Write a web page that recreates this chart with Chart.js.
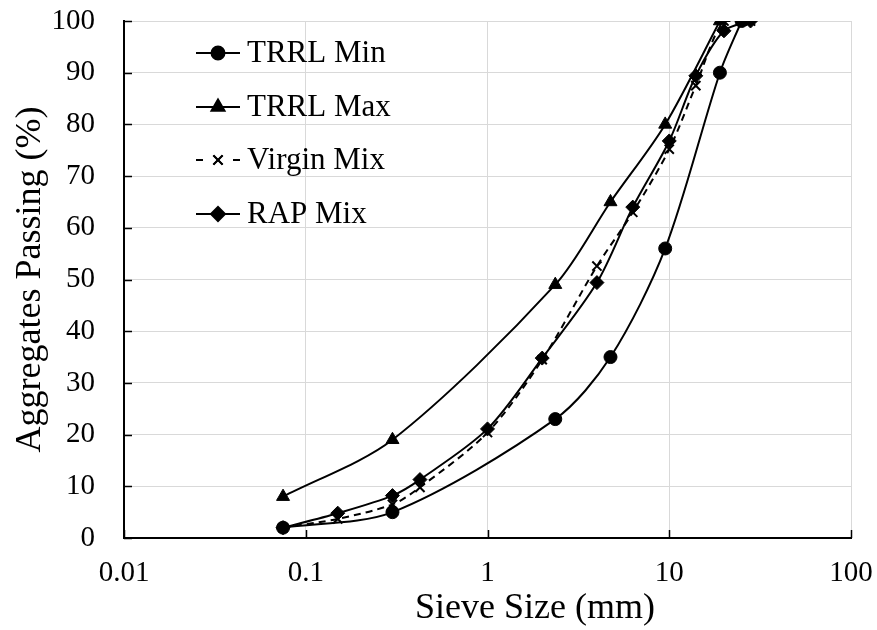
<!DOCTYPE html>
<html>
<head>
<meta charset="utf-8">
<script src="https://cdn.jsdelivr.net/npm/chart.js@4/dist/chart.umd.min.js"></script>
<style>
  html, body { margin: 0; padding: 0; background: #fff; }
</style>
</head>
<body>
<canvas id="gradation" width="877" height="630"></canvas>
<script>
// sieve sizes (mm) and percent passing
const limitSieves = [0.075, 0.3, 2.36, 4.75, 9.5, 19, 25];
const trrlMin = [2, 5, 23, 35, 56, 90, 100];
const maxSieves = [0.075, 0.3, 2.36, 4.75, 9.5, 19];
const trrlMax = [8, 19, 49, 65, 80, 100];
const mixSieves = [0.075, 0.15, 0.3, 0.425, 1, 2, 4, 6.3, 10, 14, 20, 28];
const virginMix = [2, 3.7, 6.5, 9.8, 20.4, 34.5, 52.6, 63, 75.2, 87.5, 100, 100];
const rapMix = [2, 4.8, 8.2, 11.3, 21.1, 34.8, 49.4, 64, 76.8, 89.4, 98.1, 100];
const xTicks = [0.01, 0.1, 1, 10, 100];

const serif = '"Liberation Serif", "Times New Roman", serif';

function pairs(xs, ys) {
  return xs.map((x, i) => ({ x: x, y: ys[i] }));
}

// legend drawn inside the plot, line sample + marker
const insideLegend = {
  id: 'insideLegend',
  afterDraw(chart) {
    const ctx = chart.ctx;
    const rows = [53, 107, 160, 214];
    chart.data.datasets.forEach((ds, i) => {
      const y = rows[i];
      ctx.save();
      ctx.strokeStyle = '#000';
      ctx.lineWidth = 2;
      ctx.beginPath();
      if (ds.borderDash && ds.borderDash.length) {
        ctx.moveTo(196, y); ctx.lineTo(203, y);
        ctx.moveTo(233, y); ctx.lineTo(240, y);
      } else {
        ctx.moveTo(196, y); ctx.lineTo(240, y);
      }
      ctx.stroke();
      Chart.helpers.drawPoint(ctx, {
        pointStyle: ds.pointStyle,
        radius: ds.pointRadius,
        rotation: 0,
        borderWidth: ds.pointBorderWidth
      }, 218, y);
      ctx.fillStyle = '#000';
      ctx.strokeStyle = '#000';
      if (ds.pointStyle === 'crossRot') ctx.stroke(); else ctx.fill();
      ctx.font = '31px ' + serif;
      ctx.textBaseline = 'middle';
      ctx.textAlign = 'left';
      ctx.fillText(ds.label, 247, y + 1);
      ctx.restore();
    });
  }
};

// inward tick marks on both axes, plus the x axis title
const axisExtras = {
  id: 'axisExtras',
  afterDraw(chart) {
    const ctx = chart.ctx;
    const xs = chart.scales.x, ys = chart.scales.y;
    const area = chart.chartArea;
    ctx.save();
    ctx.strokeStyle = '#000';
    ctx.lineWidth = 1.5;
    ctx.beginPath();
    for (let v = 0; v <= 100; v += 10) {
      const py = Math.round(ys.getPixelForValue(v)) + 0.5;
      ctx.moveTo(area.left, py); ctx.lineTo(area.left + 8, py);
    }
    xTicks.forEach(v => {
      const px = Math.round(xs.getPixelForValue(v)) + 0.5;
      ctx.moveTo(px, area.bottom); ctx.lineTo(px, area.bottom - 8);
    });
    ctx.stroke();
    ctx.fillStyle = '#000';
    ctx.font = '36px ' + serif;
    ctx.textAlign = 'center';
    ctx.textBaseline = 'middle';
    ctx.fillText('Sieve Size (mm)', 535, 609);
    ctx.restore();
  }
};

const line = {
  borderColor: '#000',
  backgroundColor: '#000',
  pointBackgroundColor: '#000',
  pointBorderColor: '#000',
  borderWidth: 2,
  tension: 0.3,
  fill: false
};

new Chart(document.getElementById('gradation'), {
  type: 'line',
  data: {
    datasets: [
      Object.assign({}, line, { label: 'TRRL Min', data: pairs(limitSieves, trrlMin),
        pointStyle: 'circle', pointRadius: 6.5, pointBorderWidth: 1 }),
      Object.assign({}, line, { label: 'TRRL Max', data: pairs(maxSieves, trrlMax),
        pointStyle: 'triangle', pointRadius: 7.5, pointBorderWidth: 1 }),
      Object.assign({}, line, { label: 'Virgin Mix', data: pairs(mixSieves, virginMix),
        borderDash: [7, 5], pointStyle: 'crossRot', pointRadius: 6.5, pointBorderWidth: 2 }),
      Object.assign({}, line, { label: 'RAP Mix', data: pairs(mixSieves, rapMix),
        pointStyle: 'rectRot', pointRadius: 7, pointBorderWidth: 1 })
    ]
  },
  options: {
    responsive: false,
    animation: false,
    devicePixelRatio: 1,
    layout: { padding: { left: 0, right: 26, top: 21, bottom: 0 } },
    plugins: { legend: { display: false }, tooltip: { enabled: false } },
    scales: {
      x: {
        type: 'logarithmic',
        min: 0.01,
        max: 100,
        afterBuildTicks(scale) { scale.ticks = xTicks.map(v => ({ value: v })); },
        afterFit(scale) {
          scale.height = 92;
          scale.paddingLeft = 0; scale.paddingRight = 0;
        },
        grid: { color: '#d9d9d9', lineWidth: 1, drawTicks: false },
        border: { color: '#000', width: 2 },
        ticks: {
          color: '#000',
          font: { family: serif, size: 29 },
          padding: 18,
          maxRotation: 0,
          autoSkip: false,
          callback: v => String(v)
        }
      },
      y: {
        min: 0,
        max: 100,
        afterFit(scale) {
          scale.width = 124;
          scale.paddingTop = 0; scale.paddingBottom = 0;
        },
        grid: { color: '#d9d9d9', lineWidth: 1, drawTicks: false },
        border: { color: '#000', width: 2 },
        ticks: {
          stepSize: 10,
          color: '#000',
          font: { family: serif, size: 29 },
          padding: 29
        },
        title: {
          display: true,
          text: 'Aggregates Passing (%)',
          color: '#000',
          font: { family: serif, size: 36 },
          padding: { top: 9, bottom: 0 }
        }
      }
    }
  },
  plugins: [insideLegend, axisExtras]
});
</script>
</body>
</html>
